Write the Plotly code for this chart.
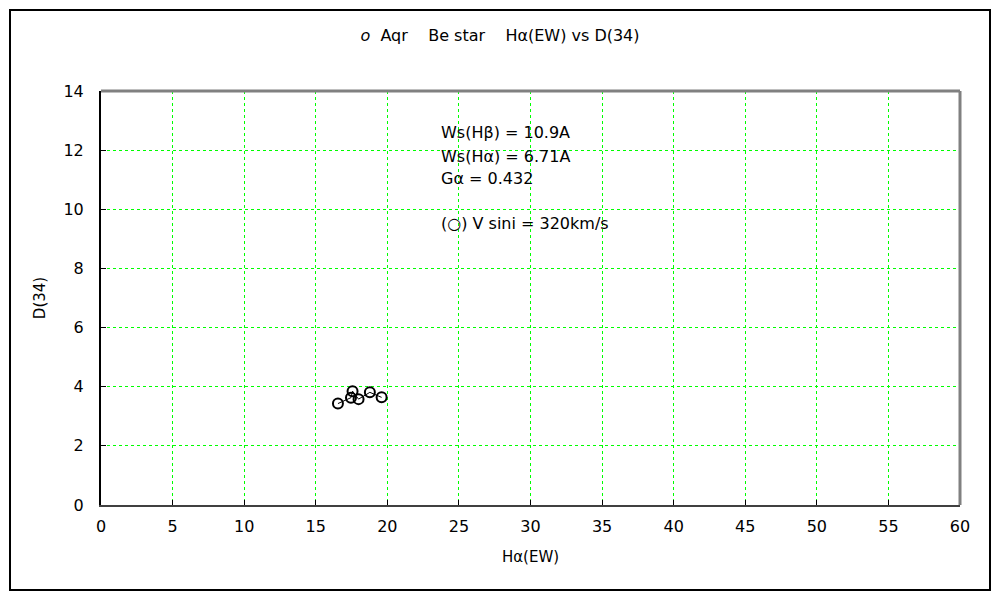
import plotly.graph_objects as go

ha_ew = [16.55, 17.46, 17.57, 17.99, 18.78, 19.60]
d34 = [3.43, 3.63, 3.85, 3.58, 3.81, 3.64]

title_text = "<i>o</i>  Aqr    Be star    Hα(EW) vs D(34)"
x_title = "Hα(EW)"
y_title = "D(34)"
notes = ["Ws(Hβ) = 10.9A", "Ws(Hα) = 6.71A", "Gα = 0.432", "(○) V sini = 320km/s"]
note_y = [12.61, 11.80, 11.05, 9.53]
note_x = 23.6

FONT = "DejaVu Sans"

fig = go.Figure()
fig.add_trace(go.Scatter(
    x=ha_ew, y=d34, mode="lines+markers",
    line=dict(color="black", width=1),
    marker=dict(symbol="circle-open", size=10, color="black", line=dict(width=2, color="black")),
    showlegend=False,
))

for t, yy in zip(notes, note_y):
    fig.add_annotation(x=note_x, y=yy, xref="x", yref="y", text=t, showarrow=False,
                       xanchor="left", yanchor="middle", font=dict(size=16, color="black", family=FONT))

fig.update_layout(
    width=1000, height=600,
    margin=dict(l=101, r=40, t=91, b=95),
    paper_bgcolor="white", plot_bgcolor="white",
    font=dict(family=FONT, size=15, color="black"),
    title=dict(text=title_text, x=0.5, xanchor="center", y=1 - 35/600, yanchor="middle",
               font=dict(size=16, family=FONT)),
    xaxis=dict(range=[0, 60], dtick=5, tick0=0, showgrid=True, gridcolor="#00FF00", griddash="3px,3px",
               gridwidth=1, zeroline=False, showline=True, linecolor="#404040", linewidth=2,
               ticks="inside", ticklen=5, tickcolor="black", ticklabelstandoff=6,
               title=dict(text=x_title, standoff=16, font=dict(size=15)), tickfont=dict(size=16)),
    yaxis=dict(range=[0, 14], dtick=2, tick0=0, showgrid=True, gridcolor="#00FF00", griddash="3px,3px",
               gridwidth=1, zeroline=False, showline=True, linecolor="black", linewidth=2,
               ticks="inside", ticklen=5, tickcolor="black", ticklabelstandoff=12,
               title=dict(text=y_title, standoff=14, font=dict(size=15)), tickfont=dict(size=16)),
)

# top and right gray plot border
fig.add_shape(type="line", xref="paper", yref="paper", x0=0, x1=1, y0=1, y1=1,
              line=dict(color="#808080", width=3))
fig.add_shape(type="line", xref="paper", yref="paper", x0=1, x1=1, y0=0, y1=1,
              line=dict(color="#808080", width=3))
# outer chart frame
fig.add_shape(type="rect", xref="paper", yref="paper",
              x0=(10-101)/859, x1=(990-101)/859, y0=(505-590)/414, y1=(505-10)/414,
              line=dict(color="black", width=2), fillcolor="rgba(0,0,0,0)", layer="below")

fig.write_html("out.html", config={"displayModeBar": False},
               post_script="document.body.style.margin='0';")
